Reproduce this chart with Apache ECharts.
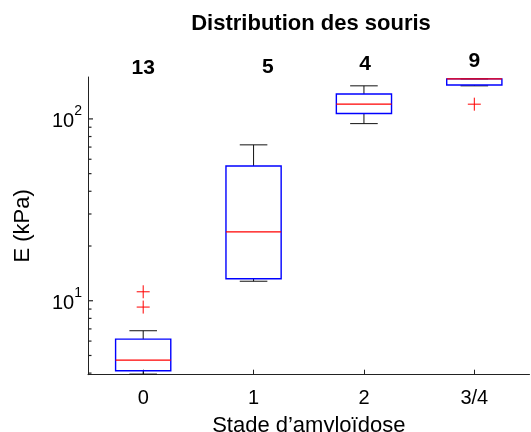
<!DOCTYPE html>
<html><head><meta charset="utf-8">
<script src="https://cdn.jsdelivr.net/npm/echarts@6/dist/echarts.min.js"></script>
<style>html,body{margin:0;padding:0;background:#fff}#c{width:531px;height:432px}</style>
</head><body><div id="c"></div>
<script>
const categories = ['0', '1', '2', '3/4'];
const counts = ['13', '5', '4', '9'];
const countX = [0, 1.13, 2.01, 3];
const countY = [190, 192, 201, 208];
const lowerWhisker = [3.95, 12.8, 94.2, 152];
const q1 = [4.12, 13.2, 107, 153.5];
const median = [4.72, 23.9, 120.5, 166];
const q3 = [6.15, 55.1, 137, 166];
const upperWhisker = [6.84, 72.0, 152, 166];
const outlierCat = [0, 0, 3];
const outlierVal = [9.23, 11.2, 120.5];
const majorTicks = [10, 100];
const minorTicks = [4, 5, 6, 7, 8, 9, 20, 30, 40, 50, 60, 70, 80, 90];

const FONT = "'Liberation Sans', Arial, Helvetica, sans-serif";
const AX = '#222';

const boxData = categories.map((c, i) => [i, lowerWhisker[i], q1[i], median[i], q3[i], upperWhisker[i]]);
const outlierData = outlierCat.map((c, i) => [c, outlierVal[i]]);
const countData = counts.map((t, i) => [countX[i], countY[i]]);
const tickVals = majorTicks.concat(minorTicks);
const tickData = tickVals.map(v => [0, v]);

function ln(x1, y1, x2, y2, color, lw) {
  return { type: 'line', shape: { x1, y1, x2, y2 }, style: { stroke: color, lineWidth: lw || 1 } };
}

function stepOf(api) {
  return api.coord([1, 10])[0] - api.coord([0, 10])[0];
}

function renderBox(params, api) {
  const i = api.value(0);
  const pLw = api.coord([i, api.value(1)]);
  const pQ1 = api.coord([i, api.value(2)]);
  const pMed = api.coord([i, api.value(3)]);
  const pQ3 = api.coord([i, api.value(4)]);
  const pUw = api.coord([i, api.value(5)]);
  const w = stepOf(api) * 0.5, cw = w * 0.5, x = pMed[0];
  const children = [];
  children.push(ln(x, pQ3[1], x, pUw[1], '#111'));
  children.push(ln(x - cw / 2, pUw[1], x + cw / 2, pUw[1], '#111'));
  children.push(ln(x, pQ1[1], x, pLw[1], '#111'));
  children.push(ln(x - cw / 2, pLw[1], x + cw / 2, pLw[1], '#111'));
  children.push({ type: 'rect', shape: { x: x - w / 2, y: pQ3[1], width: w, height: pQ1[1] - pQ3[1] },
    style: { fill: 'none', stroke: '#0000ff', lineWidth: 1.4 } });
  children.push(ln(x - w / 2, pMed[1], x + w / 2, pMed[1], '#ff0000', 1.2));
  return { type: 'group', children };
}

function renderOutlier(params, api) {
  const p = api.coord([api.value(0), api.value(1)]);
  const s = 6.5;
  return { type: 'group', children: [
    ln(p[0] - s, p[1], p[0] + s, p[1], '#ff0000'),
    ln(p[0], p[1] - s, p[0], p[1] + s, '#ff0000')
  ] };
}

function renderCount(params, api) {
  const i = params.dataIndex;
  const p0 = api.coord([Math.floor(countX[i]), countY[i]]);
  const x = p0[0] + (countX[i] - Math.floor(countX[i])) * stepOf(api);
  return { type: 'text', x: x, y: p0[1],
    style: { text: counts[i], font: 'bold 21px ' + FONT, fill: '#000',
      align: 'center', verticalAlign: 'middle' } };
}

function renderTick(params, api) {
  const i = params.dataIndex;
  const p = api.coord([0, tickVals[i]]);
  const x0 = p[0] - stepOf(api) / 2;
  const len = i < majorTicks.length ? 5 : 3.5;
  return ln(x0, p[1], x0 + len, p[1], AX, 1.2);
}

const chart = echarts.init(document.getElementById('c'), null, { renderer: 'canvas' });
chart.setOption({
  animation: false,
  backgroundColor: '#fff',
  textStyle: { fontFamily: FONT },
  graphic: [{ type: 'text', x: 311, y: 24, style: { text: 'Distribution des souris',
    font: 'bold 22px ' + FONT, fill: '#000', align: 'center', verticalAlign: 'middle' } }],
  grid: { left: 88, top: 77, width: 441.5, height: 297.7, containLabel: false, outerBoundsMode: 'none' },
  xAxis: {
    type: 'category', data: categories, boundaryGap: true,
    axisLine: { show: true, lineStyle: { color: AX, width: 1 } },
    axisTick: { show: true, inside: true, length: 5, alignWithLabel: true, lineStyle: { color: AX } },
    axisLabel: { fontSize: 20, color: '#000', margin: 14, fontFamily: FONT },
    splitLine: { show: false },
    name: 'Stade d\u2019amyloïdose', nameLocation: 'middle', nameGap: 40,
    nameTextStyle: { fontSize: 22, color: '#000', fontFamily: FONT }
  },
  yAxis: {
    type: 'log', logBase: 10, min: 3.92, max: 170,
    axisLine: { show: true, lineStyle: { color: AX, width: 1 } },
    axisTick: { show: false },
    splitLine: { show: false },
    minorTick: { show: false },
    axisLabel: {
      margin: 6, color: '#000', padding: [0, 0, 2, 0],
      formatter: function (v) {
        const l = Math.log10(v);
        if (Math.abs(l - Math.round(l)) > 1e-6) return '';
        return '{b|10}{s|' + Math.round(l) + '}';
      },
      rich: {
        b: { fontSize: 20, lineHeight: 27, verticalAlign: 'bottom', color: '#000', fontFamily: FONT },
        s: { fontSize: 14, lineHeight: 14, verticalAlign: 'top', color: '#000', fontFamily: FONT }
      }
    },
    name: 'E (kPa)', nameLocation: 'middle', nameGap: 54,
    nameTextStyle: { fontSize: 22, color: '#000', fontFamily: FONT }
  },
  series: [
    { type: 'custom', renderItem: renderTick, data: tickData, clip: false, silent: true, encode: { x: 0, y: 1 } },
    { type: 'custom', renderItem: renderBox, data: boxData, clip: false, silent: true, encode: { x: 0, y: [1, 2, 3, 4, 5] } },
    { type: 'custom', renderItem: renderOutlier, data: outlierData, clip: false, silent: true, encode: { x: 0, y: 1 } },
    { type: 'custom', renderItem: renderCount, data: countData, clip: false, silent: true, encode: { x: 0, y: 1 } }
  ]
});
</script></body></html>
